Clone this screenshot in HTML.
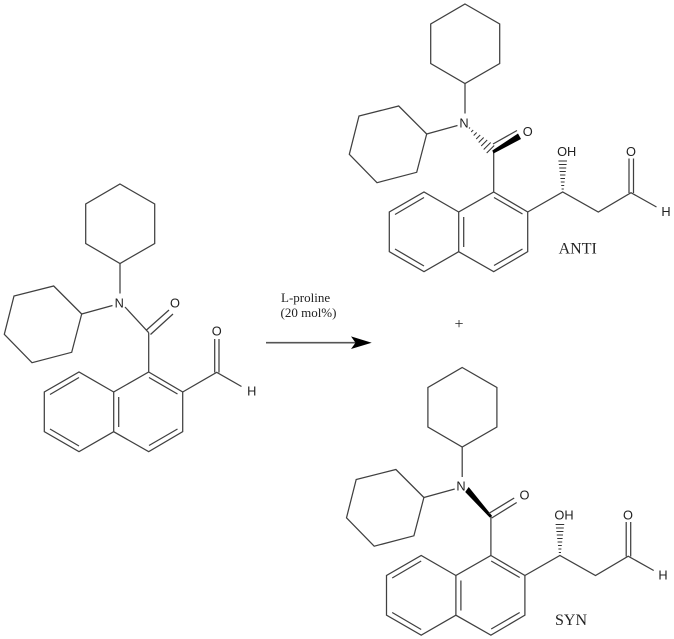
<!DOCTYPE html>
<html>
<head>
<meta charset="utf-8">
<style>
html,body{margin:0;padding:0;background:#fff;width:674px;height:639px;overflow:hidden}
svg{display:block}
.a{font-family:"Liberation Sans",sans-serif;font-size:12.8px;fill:#222;text-anchor:middle}
.s{font-family:"Liberation Serif",serif;fill:#222}
</style>
</head>
<body>
<svg xmlns="http://www.w3.org/2000/svg" width="674" height="639" viewBox="0 0 674 639">
<defs>
<g id="core" fill="none" stroke="#404040" stroke-width="1.25" stroke-linejoin="miter">
  <polygon points="465,4 499.7,24 499.7,63.5 465,83.5 430.7,63.5 430.7,24"/>
  <polygon points="426.7,134 398.7,106 359,116 349.3,154.3 377,182.7 416.7,172.3"/>
  <line x1="465" y1="83.5" x2="465" y2="113.5"/>
  <line x1="457.5" y1="125.5" x2="426.7" y2="134"/>
  <line x1="493.7" y1="152.7" x2="493.7" y2="192"/>
  <polygon points="493.7,192 527.7,212 527.7,251.7 493.7,271.7 458.7,251.7 458.7,212"/>
  <polyline points="458.7,212 424,192 389.3,212 389.3,251.7 424,271.7 458.7,251.7"/>
  <line x1="494" y1="197.5" x2="522.5" y2="214"/>
  <line x1="522.5" y1="249" x2="494" y2="265.5"/>
  <line x1="463.7" y1="217" x2="463.7" y2="247"/>
  <line x1="424" y1="197.5" x2="395" y2="214.5"/>
  <line x1="395" y1="249" x2="424" y2="266"/>
</g>
<g id="chain" fill="none" stroke="#404040" stroke-width="1.25">
  <polyline points="527.7,212 562.7,192 598.3,212 631,192.7 656.5,207"/>
  <line x1="629" y1="193" x2="629" y2="158.5"/>
  <line x1="633.5" y1="193" x2="633.5" y2="158.5"/>
</g>
<g id="hashUp" stroke="#333" stroke-width="1">
  <line x1="561.6" y1="189" x2="563.8" y2="189"/>
  <line x1="561.2" y1="185.5" x2="564.2" y2="185.5"/>
  <line x1="560.8" y1="182" x2="564.6" y2="182"/>
  <line x1="560.4" y1="178.5" x2="565" y2="178.5"/>
  <line x1="560" y1="175" x2="565.4" y2="175"/>
  <line x1="559.6" y1="171.5" x2="565.8" y2="171.5"/>
  <line x1="559.2" y1="168" x2="566.2" y2="168"/>
  <line x1="558.8" y1="164.5" x2="566.6" y2="164.5"/>
  <line x1="558.4" y1="161" x2="567" y2="161"/>
</g>
</defs>

<!-- Reactant -->
<g transform="translate(-345,180)">
  <use href="#core"/>
  <g fill="none" stroke="#404040" stroke-width="1.25">
    <line x1="470" y1="127" x2="493.7" y2="152.7"/>
    <line x1="491.5" y1="150" x2="514" y2="130"/>
    <line x1="495.5" y1="154.5" x2="518" y2="134"/>
    <polyline points="527.7,212 561.7,192.3 586.5,206.5"/>
    <line x1="559.7" y1="192.5" x2="559.7" y2="159"/>
    <line x1="564" y1="192.5" x2="564" y2="159"/>
  </g>
</g>
<text class="a" x="119.3" y="307.5">N</text>
<text class="a" x="175" y="307.5">O</text>
<text class="a" x="216.7" y="335.5">O</text>
<text class="a" x="251.7" y="395.5">H</text>

<!-- Arrow -->
<line x1="266" y1="342.7" x2="356" y2="342.7" stroke="#555" stroke-width="1.6"/>
<polygon points="371.7,342.7 351,336.4 355.5,342.7 351,349" fill="#000"/>
<text class="s" font-size="13" x="281" y="302">L-proline</text>
<text class="s" font-size="13" x="280.5" y="317">(20 mol%)</text>
<text class="s" font-size="16" x="459" y="329" text-anchor="middle" fill="#666">+</text>

<!-- ANTI -->
<use href="#core"/>
<use href="#chain"/>
<use href="#hashUp"/>
<g stroke="#333" stroke-width="1">
  <line x1="469" y1="128.5" x2="470" y2="127.5"/>
  <line x1="471.2" y1="132" x2="473.2" y2="130"/>
  <line x1="473.7" y1="135.5" x2="476.7" y2="132.5"/>
  <line x1="476.2" y1="139" x2="480.2" y2="135"/>
  <line x1="478.7" y1="142.5" x2="483.7" y2="137.5"/>
  <line x1="481.2" y1="146" x2="487.2" y2="140"/>
  <line x1="483.7" y1="149.5" x2="490.7" y2="142.5"/>
  <line x1="486.7" y1="153" x2="494.2" y2="145.5"/>
</g>
<line x1="493" y1="144" x2="517" y2="130.5" stroke="#404040" stroke-width="1.25"/>
<polygon points="493.5,153.5 492.3,150.5 518,133.5 521,139" fill="#000"/>
<text class="a" x="464" y="127.5">N</text>
<text class="a" x="527.7" y="136">O</text>
<text class="a" x="566.7" y="156">OH</text>
<text class="a" x="631" y="156">O</text>
<text class="a" x="666" y="216">H</text>
<text class="s" font-size="16" x="577.7" y="253.5" text-anchor="middle">ANTI</text>

<!-- SYN -->
<g transform="translate(-2.8,363.5)">
  <use href="#core"/>
  <use href="#chain"/>
  <use href="#hashUp"/>
  <polygon points="468,128.5 471.5,123.5 495,152.5 492.5,154" fill="#000"/>
  <line x1="491.5" y1="150" x2="517" y2="134.5" stroke="#404040" stroke-width="1.25"/>
  <line x1="494.5" y1="154.5" x2="519.5" y2="139" stroke="#404040" stroke-width="1.25"/>
</g>
<text class="a" x="461" y="490.5">N</text>
<text class="a" x="524.5" y="499.5">O</text>
<text class="a" x="564" y="519.5">OH</text>
<text class="a" x="628" y="519.5">O</text>
<text class="a" x="663" y="579.5">H</text>
<text class="s" font-size="16" x="571" y="625" text-anchor="middle">SYN</text>
</svg>
</body>
</html>
